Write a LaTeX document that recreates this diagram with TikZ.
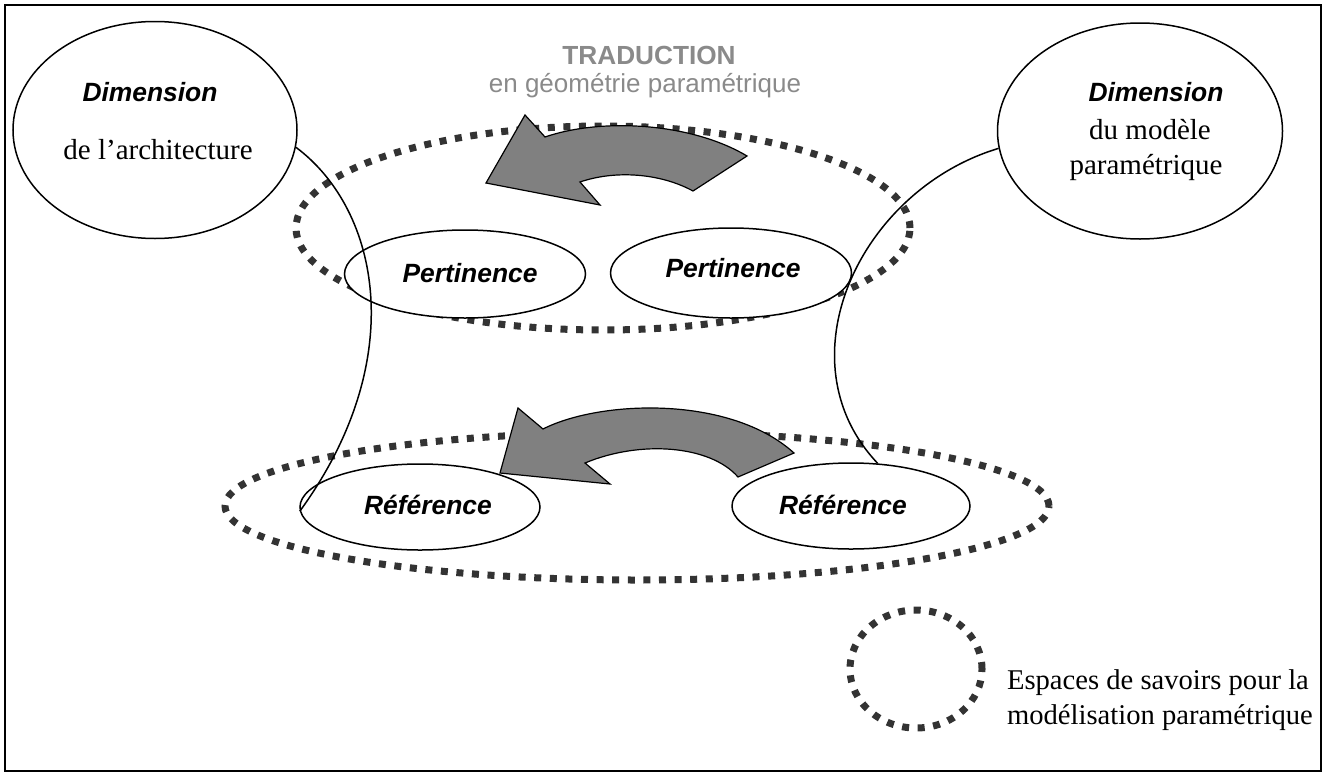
\documentclass[tikz,border=0pt]{standalone}
\usepackage{fontspec}
\setmainfont{Liberation Serif}
\setsansfont{Liberation Sans}
\usetikzlibrary{shapes.geometric}
\definecolor{dotgray}{HTML}{333333}
\definecolor{arrowgray}{HTML}{808080}
\definecolor{titlegray}{HTML}{8A8A8A}
\begin{document}
\begin{tikzpicture}[x=0.5pt,y=-0.5pt,
  oval/.style={draw=black,line width=0.75pt,ellipse,inner sep=0pt,fill=white},
  space/.style={draw=dotgray,line width=3.5pt,ellipse,inner sep=0pt,dash pattern=on 3.5pt off 4.3pt},
  keyword/.style={font=\sffamily\bfseries\itshape\fontsize{13.2}{16}\selectfont},
  plain/.style={font=\rmfamily\fontsize{14.5}{17.5}\selectfont},
  bigarrow/.style={fill=arrowgray,draw=black,line width=0.6pt,line join=miter},
  link/.style={draw=black,line width=0.75pt}]
\useasboundingbox (0,0) rectangle (1326,776);
\draw[line width=1pt] (5,5) rectangle (1321,771);

% knowledge spaces
\node[space,minimum width=307pt,minimum height=102pt] (spaceTop) at (603,228) {};
\node[space,minimum width=412pt,minimum height=74pt] (spaceBot) at (637,506) {};

% translation arrows
\draw[bigarrow] (486,183) -- (525,115) -- (545,137)
  .. controls (600,118) and (690,122) .. (747,156)
  -- (693,191) .. controls (660,173) and (615,170) .. (580,182)
  -- (600,205) -- cycle;
\draw[bigarrow] (500,473) -- (518,408) -- (543,429)
  .. controls (600,400) and (730,395) .. (794,453)
  -- (738,477) .. controls (710,445) and (640,440) .. (585,463)
  -- (610,484) -- cycle;

% dimensions
\node[oval,minimum width=142pt,minimum height=108.5pt] (dimA) at (155,130) {};
\node[oval,minimum width=142.5pt,minimum height=108pt] (dimB) at (1140,131) {};
\node[keyword] (dimAt) at (150,92) {Dimension};
\node[plain] (dimAs) at (158,150) {de l’architecture};
\node[keyword] (dimBt) at (1156,92) {Dimension};
\node[plain] (dimBs1) at (1150,130) {du modèle};
\node[plain] (dimBs2) at (1146,168) {paramétrique};

% pertinence and reference
\node[oval,minimum width=120.5pt,minimum height=44pt] (pertA) at (465,274) {};
\node[oval,minimum width=120.5pt,minimum height=45pt] (pertB) at (731,273) {};
\node[oval,minimum width=120pt,minimum height=43pt] (refA) at (420,507) {};
\node[oval,minimum width=119pt,minimum height=43pt] (refB) at (851,506) {};
\node[keyword] at (470,273) {Pertinence};
\node[keyword] at (733,268) {Pertinence};
\node[keyword] at (428,505) {Référence};
\node[keyword] at (843,505) {Référence};

% links between the dimensions
\draw[link] (dimA.-7) .. controls (380,210) and (410,360) .. (refA.182);
\draw[link] (dimB.187) .. controls (860,190) and (780,360) .. (refB.58);

% title
\node[font=\sffamily\bfseries\fontsize{13.1}{15}\selectfont,text=titlegray] (title) at (649,55) {TRADUCTION};
\node[font=\sffamily\fontsize{13}{15}\selectfont,text=titlegray] (subtitle) at (645,86) {en géométrie paramétrique};

% legend
\node[space,minimum width=66pt,minimum height=59pt] (legend) at (916,669) {};
\node[plain,font=\rmfamily\fontsize{14.3}{17.5}\selectfont,align=left,anchor=west] (legendText) at (1000,700) {Espaces de savoirs pour la\\modélisation paramétrique};
\end{tikzpicture}
\end{document}
